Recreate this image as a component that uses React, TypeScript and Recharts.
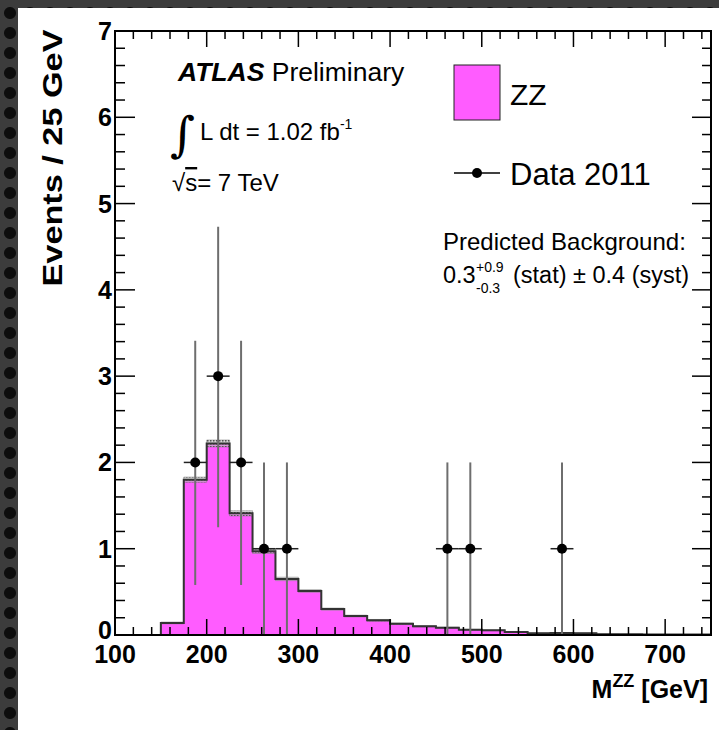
import React from "react";
import { ComposedChart, Area, Scatter, ErrorBar, XAxis, YAxis, Legend } from "recharts";

const FONT = "'Liberation Sans', Arial, Helvetica, sans-serif";
const ZZ_FILL = "#ff5cff";

// ZZ expectation, 25 GeV bins (low edge of each bin)
const binLow = [150, 175, 200, 225, 250, 275, 300, 325, 350, 375, 400, 425, 450, 475, 500, 525, 550, 575, 600, 625, 650, 675, 700, 725];
const zzYield = [0.14, 1.8, 2.22, 1.41, 0.97, 0.65, 0.51, 0.3, 0.22, 0.17, 0.13, 0.1, 0.085, 0.06, 0.054, 0.035, 0.02, 0.023, 0.02, 0.01, 0.008, 0.007, 0.005, 0.005];
const zzUnc = [0.01, 0.03, 0.04, 0.03, 0.025, 0.02, 0.015, 0.012, 0.01, 0.01, 0.008, 0.006, 0.005, 0.004, 0.004, 0.003, 0.002, 0.002, 0.002, 0.001, 0.001, 0.001, 0.001, 0.001];

// Data 2011 points
const dataMass = [187.5, 212.5, 237.5, 262.5, 287.5, 462.5, 487.5, 587.5];
const dataCount = [2, 3, 2, 1, 1, 1, 1, 1];
const dataErrLow = [1.42, 1.75, 1.42, 1, 1, 1, 1, 1];
const dataErrHigh = [1.41, 1.73, 1.41, 1, 1, 1, 1, 1];
const binHalf = 12.5;

const xMajor = [100, 200, 300, 400, 500, 600, 700];
const xMinor = [120, 140, 160, 180, 220, 240, 260, 280, 320, 340, 360, 380, 420, 440, 460, 480, 520, 540, 560, 580, 620, 640, 660, 680, 720, 740];
const yMajor = [0, 1, 2, 3, 4, 5, 6, 7];
const yMinor = Array.from({ length: 36 }, (_, i) => Math.round(i * 2) / 10).filter(
  (v) => Math.abs(v - Math.round(v)) > 1e-6
);

const X_DOMAIN = [100, 750];
const Y_DOMAIN = [0, 7];

// plot box on the page (chart sits at 18,8; margins + axis sizes below)
const CHART_X = 18;
const CHART_Y = 8;
const MARGIN = { top: 23, right: 8, bottom: 35, left: 37 };
const X_AXIS_H = 60;
const Y_AXIS_W = 60;
const CHART_W = 701;
const CHART_H = 722;
const PL = CHART_X + MARGIN.left + Y_AXIS_W;
const PT = CHART_Y + MARGIN.top;
const PR = CHART_X + CHART_W - MARGIN.right;
const PB = CHART_Y + CHART_H - MARGIN.bottom - X_AXIS_H;
const px = (v: number) => PL + ((v - X_DOMAIN[0]) / (X_DOMAIN[1] - X_DOMAIN[0])) * (PR - PL);
const py = (v: number) => PB - ((v - Y_DOMAIN[0]) / (Y_DOMAIN[1] - Y_DOMAIN[0])) * (PB - PT);

const histData = [
  { x: 100, y: 0, band: [0, 0] },
  ...binLow.map((x, i) => ({ x, y: zzYield[i], band: [zzYield[i] - zzUnc[i], zzYield[i] + zzUnc[i]] })),
  { x: 750, y: zzYield[zzYield.length - 1], band: [zzYield[zzYield.length - 1], zzYield[zzYield.length - 1]] },
];

const pointData = dataMass.map((x, i) => ({
  x,
  y: dataCount[i],
  ey: [dataErrLow[i], dataErrHigh[i]],
  ex: binHalf,
}));

function BottomLabel(props: any) {
  const { x, y, payload } = props;
  return (
    <text x={x} y={y + 28} textAnchor="middle" fontSize={25} fontWeight="bold" fontFamily={FONT} fill="#000">
      {payload.value}
    </text>
  );
}

function LeftLabel(props: any) {
  const { x, y, payload } = props;
  // ROOT lifts the zero label a little above the corner
  const dy = payload.value === 0 ? 4 : 9;
  return (
    <text x={x - 3} y={y + dy} textAnchor="end" fontSize={25} fontWeight="bold" fontFamily={FONT} fill="#000">
      {payload.value}
    </text>
  );
}

function Dot(props: any) {
  return <circle cx={props.cx} cy={props.cy} r={5} fill="#000" />;
}

function LegendBox() {
  return (
    <svg width={260} height={150} style={{ display: "block" }}>
      <rect x={14} y={10} width={46} height={55} fill={ZZ_FILL} stroke="#222" strokeWidth={1} />
      <text x={70} y={50} fontSize={30} fontFamily={FONT} fill="#000">ZZ</text>
      <line x1={14} x2={60} y1={118} y2={118} stroke="#000" strokeWidth={1.5} />
      <circle cx={37} cy={118} r={5} fill="#000" />
      <text x={70} y={130} fontSize={31} fontFamily={FONT} fill="#000">Data 2011</text>
    </svg>
  );
}

// ROOT-style inward ticks on all four sides
function FrameTicks() {
  const t = { stroke: "#000", strokeWidth: 1.5 };
  return (
    <g>
      {xMajor.concat(xMinor).map((v) => {
        const len = v % 100 === 0 ? 16 : 8;
        return (
          <g key={"x" + v}>
            <line x1={px(v)} x2={px(v)} y1={PB} y2={PB - len} {...t} />
            <line x1={px(v)} x2={px(v)} y1={PT} y2={PT + len} {...t} />
          </g>
        );
      })}
      {yMajor.map((v) => (
        <g key={"y" + v}>
          <line x1={PL} x2={PL + 20} y1={py(v)} y2={py(v)} {...t} />
          <line x1={PR} x2={PR - 19} y1={py(v)} y2={py(v)} {...t} />
        </g>
      ))}
      {yMinor.map((v) => (
        <g key={"ym" + v}>
          <line x1={PL} x2={PL + 10} y1={py(v)} y2={py(v)} {...t} />
          <line x1={PR} x2={PR - 9} y1={py(v)} y2={py(v)} {...t} />
        </g>
      ))}
      <rect x={PL} y={PT} width={PR - PL} height={PB - PT} fill="none" stroke="#000" strokeWidth={2} />
    </g>
  );
}

export default function App() {
  return (
    <div
      style={{
        position: "absolute",
        left: 0,
        top: 0,
        width: 719,
        height: 730,
        backgroundColor: "#3c3c3c",
        backgroundImage: "radial-gradient(circle, #0d0d0d 5.5px, transparent 6.5px)",
        backgroundSize: "20px 20px",
        backgroundPosition: "0px 3px",
        overflow: "hidden",
      }}
    >
      <div style={{ position: "absolute", left: CHART_X, top: CHART_Y, width: CHART_W, height: CHART_H, background: "#fff" }}>
        <ComposedChart width={CHART_W} height={CHART_H} margin={MARGIN}>
          <defs>
            <pattern id="zzHatch" width={3} height={3} patternUnits="userSpaceOnUse">
              <rect x={0} y={0} width={3} height={3} fill="rgba(190,190,190,0.6)" />
              <rect x={0} y={0} width={1.5} height={1.5} fill="#4a4a4a" />
            </pattern>
          </defs>
          <Area
            data={histData}
            xAxisId="b"
            yAxisId="l"
            dataKey="y"
            type="stepAfter"
            fill={ZZ_FILL}
            fillOpacity={1}
            stroke="none"
            isAnimationActive={false}
            dot={false}
            activeDot={false}
          />
          <Area
            data={histData}
            xAxisId="b"
            yAxisId="l"
            dataKey="band"
            type="stepAfter"
            fill="url(#zzHatch)"
            fillOpacity={1}
            stroke="#777"
            strokeWidth={0.5}
            isAnimationActive={false}
            dot={false}
            activeDot={false}
          />
          <Area
            data={histData}
            xAxisId="b"
            yAxisId="l"
            dataKey="y"
            type="stepAfter"
            fill="none"
            stroke="#333"
            strokeWidth={2}
            isAnimationActive={false}
            dot={false}
            activeDot={false}
          />
          <Scatter data={pointData} xAxisId="b" yAxisId="l" dataKey="y" shape={Dot} isAnimationActive={false}>
            <ErrorBar dataKey="ey" direction="y" width={0} stroke="#6e6e6e" strokeWidth={2} isAnimationActive={false} />
            <ErrorBar dataKey="ex" direction="x" width={0} stroke="#222" strokeWidth={1.5} isAnimationActive={false} />
          </Scatter>
          <XAxis
            xAxisId="b"
            dataKey="x"
            type="number"
            orientation="bottom"
            domain={X_DOMAIN}
            allowDataOverflow
            ticks={xMajor}
            interval={0}
            height={X_AXIS_H}
            tickSize={0}
            tickMargin={0}
            tickLine={false}
            axisLine={{ stroke: "#000", strokeWidth: 2 }}
            tick={BottomLabel}
          />
          <YAxis
            yAxisId="l"
            type="number"
            orientation="left"
            domain={Y_DOMAIN}
            allowDataOverflow
            ticks={yMajor}
            interval={0}
            width={Y_AXIS_W}
            tickSize={0}
            tickMargin={0}
            tickLine={false}
            axisLine={{ stroke: "#000", strokeWidth: 2 }}
            tick={LeftLabel}
          />
          <Legend
            layout="vertical"
            align="center"
            verticalAlign="middle"
            wrapperStyle={{ position: "absolute", left: 422, top: 47, width: 260, height: 150 }}
            content={() => <LegendBox />}
          />
        </ComposedChart>
      </div>
      <svg
        width={719}
        height={730}
        style={{ position: "absolute", left: 0, top: 0, pointerEvents: "none" }}
        fontFamily={FONT}
      >
        <FrameTicks />
        <text
          x={52}
          y={158}
          transform="rotate(-90 52 158)"
          textAnchor="middle"
          dominantBaseline="central"
          fontSize={28}
          fontWeight="bold"
          textLength={257}
          lengthAdjust="spacingAndGlyphs"
          fill="#000"
        >
          Events / 25 GeV
        </text>
        <text x={178} y={81} fontSize={26.5} fill="#000">
          <tspan fontWeight="bold" fontStyle="italic">ATLAS</tspan>
          <tspan> Preliminary</tspan>
        </text>
        <text x={170} y={151} fontSize={48} fontFamily="'DejaVu Serif', serif" fill="#000">∫</text>
        <text x={200} y={140} fontSize={24} fill="#000">
          L dt = 1.02 fb
          <tspan fontSize={14} dy={-11}>-1</tspan>
        </text>
        <text x={172} y={191} fontSize={24} fill="#000">
          √<tspan textDecoration="overline">s</tspan>= 7 TeV
        </text>
        <text x={443} y={250} fontSize={24} fill="#000">Predicted Background:</text>
        <text x={443} y={283} fontSize={23.5} fill="#000">0.3</text>
        <text x={476} y={272} fontSize={14} fill="#000">+0.9</text>
        <text x={476} y={293} fontSize={14} fill="#000">-0.3</text>
        <text x={513} y={283} fontSize={23.5} fill="#000">(stat) ± 0.4 (syst)</text>
        <text x={708} y={698} textAnchor="end" fontSize={25} fontWeight="bold" fill="#000">
          M<tspan fontSize={18} dy={-11}>ZZ</tspan>
          <tspan dy={11}> [GeV]</tspan>
        </text>
      </svg>
    </div>
  );
}
